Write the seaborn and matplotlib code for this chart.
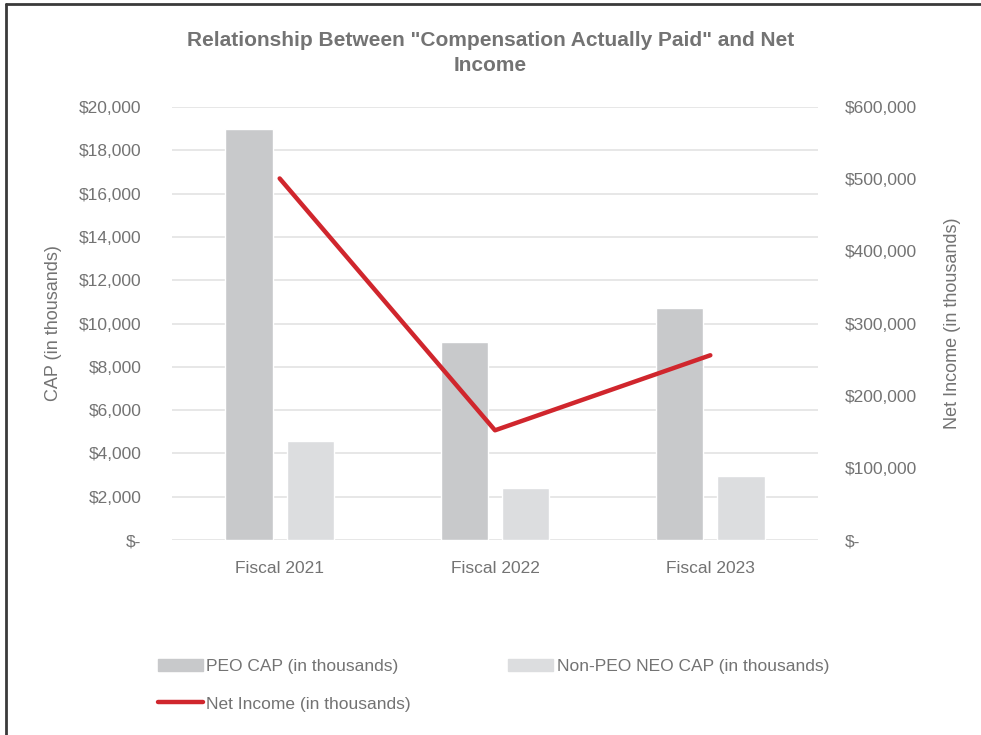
import matplotlib
matplotlib.use("Agg")
import matplotlib.pyplot as plt
import matplotlib.ticker as mticker
from matplotlib.lines import Line2D
from matplotlib.patches import Patch
import pandas as pd
import seaborn as sns

# values (all in thousands)
years = ["Fiscal 2021", "Fiscal 2022", "Fiscal 2023"]
peo_cap = [19000, 9150, 10700]
non_peo_cap = [4550, 2400, 2950]
net_income = [501000, 152000, 256000]

peo_label = "PEO CAP (in thousands)"
non_peo_label = "Non-PEO NEO CAP (in thousands)"
ni_label = "Net Income (in thousands)"

PEO_COLOR = "#c8c9cb"
NON_PEO_COLOR = "#dcdddf"
RED = "#d0262d"
TEXT = "#737373"
GRID = "#e3e3e3"

sns.set_theme(style="white")
plt.rcParams["font.family"] = ["Liberation Sans", "DejaVu Sans"]

bars = pd.DataFrame({
    "year": years * 2,
    "series": [peo_label] * 3 + [non_peo_label] * 3,
    "cap": peo_cap + non_peo_cap,
})
line = pd.DataFrame({"year": years, "ni": net_income})

fig = plt.figure(figsize=(9.81, 7.35), dpi=100)
ax = fig.add_axes([172 / 981, 1 - 540 / 735, 646 / 981, 433 / 735])

sns.barplot(data=bars, x="year", y="cap", hue="series",
            palette=[PEO_COLOR, NON_PEO_COLOR], width=0.57, gap=0.23,
            legend=False, ax=ax)
ax.set_ylim(0, 20000)
ax.set_yticks(range(0, 20001, 2000))
ax.yaxis.set_major_formatter(mticker.FuncFormatter(
    lambda v, p: "$-" if v == 0 else f"${v:,.0f}"))
ax.grid(axis="y", color=GRID, linewidth=1.2)
ax.set_axisbelow(True)
ax.set_xlabel("")
ax.set_ylabel("CAP (in thousands)", color=TEXT, fontsize=13, labelpad=12)
ax.tick_params(axis="y", length=0, colors=TEXT, labelsize=12.5, pad=22)
ax.tick_params(axis="x", length=0, colors=TEXT, labelsize=12.5, pad=15)
for s in ax.spines.values():
    s.set_visible(False)

ax2 = ax.twinx()
sns.lineplot(data=line, x="year", y="ni", color=RED, linewidth=3.2,
             sort=False, ax=ax2)
ax2.set_ylim(0, 600000)
ax2.set_yticks(range(0, 600001, 100000))
ax2.yaxis.set_major_formatter(mticker.FuncFormatter(
    lambda v, p: "$-" if v == 0 else f"${v:,.0f}"))
ax2.set_ylabel("Net Income (in thousands)", color=TEXT, fontsize=13, labelpad=20)
ax2.tick_params(axis="y", length=0, colors=TEXT, labelsize=12.5, pad=19)
ax2.set_xlabel("")
ax2.grid(False)
for s in ax2.spines.values():
    s.set_visible(False)
ax.set_xlim(-0.5, 2.5)

fig.text(0.5, 1 - 53 / 735, 'Relationship Between "Compensation Actually Paid" and Net\nIncome',
         ha="center", va="center", fontsize=15, fontweight="bold", color=TEXT,
         linespacing=1.4)

handles = [Patch(color=PEO_COLOR), Line2D([], [], color=RED, linewidth=3.2),
           Patch(color=NON_PEO_COLOR)]
labels = [peo_label, ni_label, non_peo_label]
fig.legend(handles, labels, ncol=2, loc="upper left",
           bbox_to_anchor=(142 / 981, 1 - 643 / 735), frameon=False,
           fontsize=12.5, labelcolor=TEXT, handlelength=2.6, handletextpad=0.2,
           columnspacing=5.6, labelspacing=1.3)

# frame lines on top and left of the picture
fig.add_artist(Line2D([0.006, 1], [0.994, 0.994], transform=fig.transFigure,
                      color="#3a3a3a", linewidth=2))
fig.add_artist(Line2D([0.006, 0.006], [0, 0.994], transform=fig.transFigure,
                      color="#3a3a3a", linewidth=2))

fig.savefig("out.png", dpi=100)
